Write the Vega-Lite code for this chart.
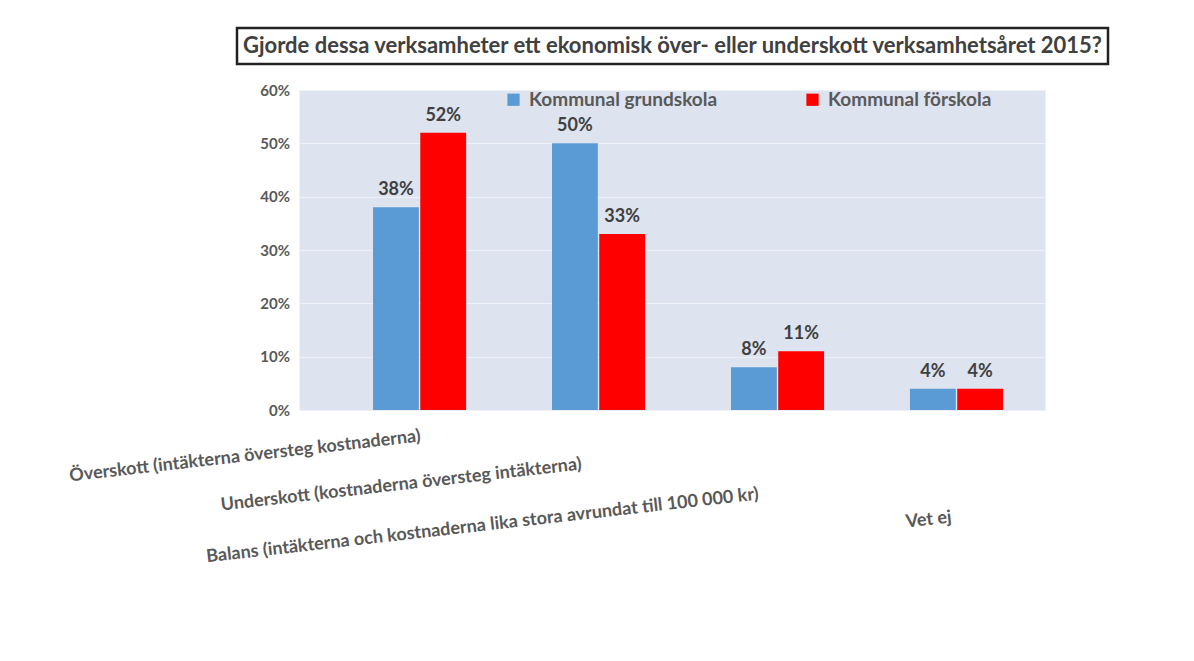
{
  "$schema": "https://vega.github.io/schema/vega-lite/v6.json",
  "background": "white",
  "padding": {"left": 68, "top": 26, "right": 0, "bottom": 0},
  "bounds": "flush",
  "center": true,
  "spacing": 26,
  "config": {"font": "Lato", "view": {"stroke": null}},
  "datasets": {
    "svar": [
      {"kategori": "Överskott (intäkterna översteg kostnaderna)", "serie": "Kommunal grundskola", "andel": 0.38},
      {"kategori": "Överskott (intäkterna översteg kostnaderna)", "serie": "Kommunal förskola", "andel": 0.52},
      {"kategori": "Underskott (kostnaderna översteg intäkterna)", "serie": "Kommunal grundskola", "andel": 0.50},
      {"kategori": "Underskott (kostnaderna översteg intäkterna)", "serie": "Kommunal förskola", "andel": 0.33},
      {"kategori": "Balans (intäkterna och kostnaderna lika stora avrundat till 100 000 kr)", "serie": "Kommunal grundskola", "andel": 0.08},
      {"kategori": "Balans (intäkterna och kostnaderna lika stora avrundat till 100 000 kr)", "serie": "Kommunal förskola", "andel": 0.11},
      {"kategori": "Vet ej", "serie": "Kommunal grundskola", "andel": 0.04},
      {"kategori": "Vet ej", "serie": "Kommunal förskola", "andel": 0.04}
    ],
    "rubrik": [
      {"rubrik": "Gjorde dessa verksamheter ett ekonomisk över- eller underskott verksamhetsåret 2015?"}
    ]
  },
  "vconcat": [
    {
      "data": {"name": "rubrik"},
      "width": 871,
      "height": 36,
      "view": {"stroke": "#222222", "strokeWidth": 2.5, "fill": "white"},
      "mark": {"type": "text", "font": "Lato", "fontWeight": "bold", "fontSize": 22, "color": "#404040", "align": "center", "baseline": "middle"},
      "encoding": {"text": {"field": "rubrik", "type": "nominal"}}
    },
    {
      "data": {"name": "svar"},
      "width": 746,
      "height": 320,
      "view": {"fill": "#dde3ef", "stroke": null},
      "encoding": {
        "x": {
          "field": "kategori",
          "type": "nominal",
          "sort": null,
          "scale": {"paddingInner": 0.48, "paddingOuter": 0.324, "align": 0.634},
          "axis": {
            "title": null,
            "domain": false,
            "ticks": false,
            "tickSize": 0,
            "labelAngle": -6.5,
            "labelAlign": "right",
            "labelBaseline": "top",
            "labelFont": "Lato",
            "labelFontSize": 18,
            "labelFontWeight": "bold",
            "labelColor": "#595959",
            "labelOverlap": false,
            "labelLimit": 800,
            "labelPadding": {
              "condition": [
                {"test": "indexof(datum.value, 'Under') === 0", "value": 45},
                {"test": "indexof(datum.value, 'Balans') === 0", "value": 75},
                {"test": "datum.value === 'Vet ej'", "value": 98}
              ],
              "value": 17
            },
            "labelOffset": {
              "condition": [
                {"test": "indexof(datum.value, 'Under') === 0", "value": -18},
                {"test": "indexof(datum.value, 'Balans') === 0", "value": -20},
                {"test": "datum.value === 'Vet ej'", "value": -6}
              ],
              "value": 0
            }
          }
        },
        "xOffset": {
          "field": "serie",
          "type": "nominal",
          "sort": ["Kommunal grundskola", "Kommunal förskola"],
          "scale": {"paddingInner": 0.03}
        },
        "y": {
          "field": "andel",
          "type": "quantitative",
          "scale": {"domain": [0, 0.6], "nice": false},
          "axis": {
            "title": null,
            "domain": false,
            "ticks": false,
            "tickSize": 0,
            "labelPadding": 10,
            "values": [0, 0.1, 0.2, 0.3, 0.4, 0.5, 0.6],
            "format": ".0%",
            "labelFont": "Lato",
            "labelFontSize": 15,
            "labelFontWeight": "bold",
            "labelColor": "#595959",
            "gridColor": "#edf0f6",
            "gridWidth": 1.2
          }
        }
      },
      "layer": [
        {
          "mark": {"type": "bar"},
          "encoding": {
            "color": {
              "field": "serie",
              "type": "nominal",
              "scale": {"domain": ["Kommunal grundskola", "Kommunal förskola"], "range": ["#5b9bd5", "#ff0000"]},
              "legend": {
                "orient": "none",
                "legendX": 267,
                "legendY": 62,
                "direction": "horizontal",
                "title": null,
                "symbolType": "square",
                "symbolSize": 150,
                "symbolStrokeWidth": 0,
                "labelFont": "Lato",
                "labelFontSize": 19,
                "labelFontWeight": "bold",
                "labelColor": "#595959",
                "labelLimit": 400,
                "labelOffset": 6,
                "columnPadding": 85
              }
            }
          }
        },
        {
          "mark": {"type": "text", "baseline": "bottom", "dy": -8, "font": "Lato", "fontSize": 18, "fontWeight": "bold", "color": "#404040"},
          "encoding": {"text": {"field": "andel", "type": "quantitative", "format": ".0%"}}
        }
      ]
    }
  ]
}
